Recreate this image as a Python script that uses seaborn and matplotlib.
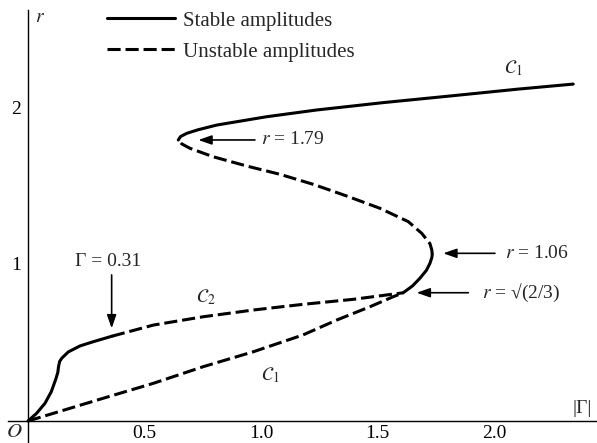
import matplotlib
matplotlib.use("Agg")
import matplotlib.pyplot as plt
import seaborn as sns

# ---- data (|Gamma|, r) ----
c2_stable_g = [0.0, 0.037, 0.073, 0.100, 0.120, 0.128, 0.131, 0.136, 0.145, 0.173, 0.223, 0.280, 0.360]
c2_stable_r = [0.0, 0.049, 0.113, 0.187, 0.270, 0.310, 0.346, 0.380, 0.400, 0.440, 0.478, 0.505, 0.540]

c2_unstable_g = [0.360, 0.538, 0.752, 0.967, 1.180, 1.396, 1.610]
c2_unstable_r = [0.540, 0.611, 0.664, 0.707, 0.743, 0.775, 0.8165]

c1_low_unstable_g = [0.0, 0.109, 0.323, 0.538, 0.752, 0.967, 1.180, 1.325, 1.468, 1.568, 1.610]
c1_low_unstable_r = [0.0, 0.049, 0.145, 0.240, 0.346, 0.441, 0.548, 0.643, 0.728, 0.792, 0.8165]

c1_mid_stable_g = [1.610, 1.650, 1.682, 1.710, 1.725, 1.733, 1.735]
c1_mid_stable_r = [0.8165, 0.860, 0.909, 0.960, 1.004, 1.040, 1.060]

c1_mid_unstable_g = [1.735, 1.733, 1.725, 1.690, 1.632, 1.510, 1.368, 1.225, 1.082, 0.939, 0.795, 0.695, 0.660, 0.645]
c1_mid_unstable_r = [1.060, 1.090, 1.130, 1.195, 1.270, 1.355, 1.433, 1.507, 1.571, 1.624, 1.683, 1.737, 1.765, 1.790]

c1_up_stable_g = [0.645, 0.655, 0.681, 0.730, 0.810, 1.024, 1.239, 1.525, 1.811, 2.097, 2.340]
c1_up_stable_r = [1.790, 1.812, 1.832, 1.855, 1.885, 1.938, 1.981, 2.028, 2.070, 2.113, 2.146]

xticks = [0.5, 1.0, 1.5, 2.0]
xtick_labels = ["0.5", "1.0", "1.5", "2.0"]
yticks = [1, 2]
ytick_labels = ["1", "2"]
legend_labels = ["Stable amplitudes", "Unstable amplitudes"]

sns.set_theme(style="white")
plt.rcParams['font.family'] = ['Liberation Serif', 'DejaVu Serif']
plt.rcParams['mathtext.fontset'] = 'stix'

fig = plt.figure(figsize=(5.97, 4.43), dpi=100)
ax = fig.add_axes([0, 0, 1, 1])
ax.set_facecolor('white')

lw = 2.2
dash = (0, (4.3, 1.6))
kw = dict(sort=False, estimator=None, color='black', lw=lw, ax=ax)

sns.lineplot(x=c2_stable_g, y=c2_stable_r, **kw)
sns.lineplot(x=c2_unstable_g, y=c2_unstable_r, linestyle=dash, **kw)
sns.lineplot(x=c1_low_unstable_g, y=c1_low_unstable_r, linestyle=dash, **kw)
sns.lineplot(x=c1_mid_stable_g, y=c1_mid_stable_r, **kw)
sns.lineplot(x=c1_mid_unstable_g, y=c1_mid_unstable_r, linestyle=dash, **kw)
sns.lineplot(x=c1_up_stable_g, y=c1_up_stable_r, **kw)

# axes geometry: origin at pixel (28, 421), 233 px per unit in x, 157 px per unit in y
ax.set_xlim(-28 / 233, 569 / 233)
ax.set_ylim(-22 / 157, 421 / 157)

for s in ['top', 'right']:
    ax.spines[s].set_visible(False)
ax.spines['left'].set_position(('data', 0))
ax.spines['bottom'].set_position(('data', 0))
ax.spines['left'].set_bounds(-22 / 157, 411 / 157)
ax.spines['bottom'].set_bounds(-20 / 233, 569 / 233)
for s in ['left', 'bottom']:
    ax.spines[s].set_color('black')
    ax.spines[s].set_linewidth(1.0)

ax.set_xticks(xticks)
ax.set_xticklabels(xtick_labels)
ax.set_yticks(yticks)
ax.set_yticklabels(ytick_labels)
ax.tick_params(direction='in', length=4, width=1, colors='black', labelsize=14)
ax.tick_params(axis='x', pad=3)
ax.tick_params(axis='y', pad=5)
ax.set_xlabel('')
ax.set_ylabel('')

# legend
ax.legend(handles=[ax.lines[0], ax.lines[1]], labels=legend_labels,
          loc='upper left', bbox_to_anchor=(107 / 597, 1 - 11 / 443),
          bbox_transform=fig.transFigure, frameon=False, fontsize=15,
          handlelength=3.27, handletextpad=0.38, labelspacing=0.55,
          borderpad=0, borderaxespad=0)

# axis labels
ax.text(-0.06, -0.076, '$O$', fontsize=15, ha='center', va='center')
ax.text(0.05, 2.57, '$r$', fontsize=14, ha='center', va='center')
ax.text(2.378, 0.078, '|Γ|', fontsize=14, ha='center', va='center')

# curve labels
ax.text(2.083, 2.246, r'$\mathcal{C}_1$', fontsize=14, ha='center', va='center')
ax.text(0.765, 0.79, r'$\mathcal{C}_2$', fontsize=14, ha='center', va='center')
ax.text(1.039, 0.293, r'$\mathcal{C}_1$', fontsize=14, ha='center', va='center')

# annotations
arrow = dict(arrowstyle='-|>,head_length=0.8,head_width=0.28', color='black',
             lw=1.2, mutation_scale=10, shrinkA=0, shrinkB=0)
ax.annotate('', xy=(0.731, 1.79), xytext=(0.974, 1.79), arrowprops=arrow)
ax.text(1.0, 1.79, '$r$ = 1.79', fontsize=14, ha='left', va='center')

ax.annotate('', xy=(1.782, 1.068), xytext=(2.004, 1.068), arrowprops=arrow)
ax.text(2.047, 1.068, '$r$ = 1.06', fontsize=14, ha='left', va='center')

ax.annotate('', xy=(1.668, 0.817), xytext=(1.89, 0.817), arrowprops=arrow)
ax.text(1.947, 0.817, '$r$ = √(2/3)', fontsize=14, ha='left', va='center')

ax.annotate('', xy=(0.359, 0.59), xytext=(0.359, 0.93), arrowprops=arrow)
ax.text(0.345, 1.015, 'Γ = 0.31', fontsize=14, ha='center', va='center')

fig.savefig('out.png', dpi=100, facecolor='white')
